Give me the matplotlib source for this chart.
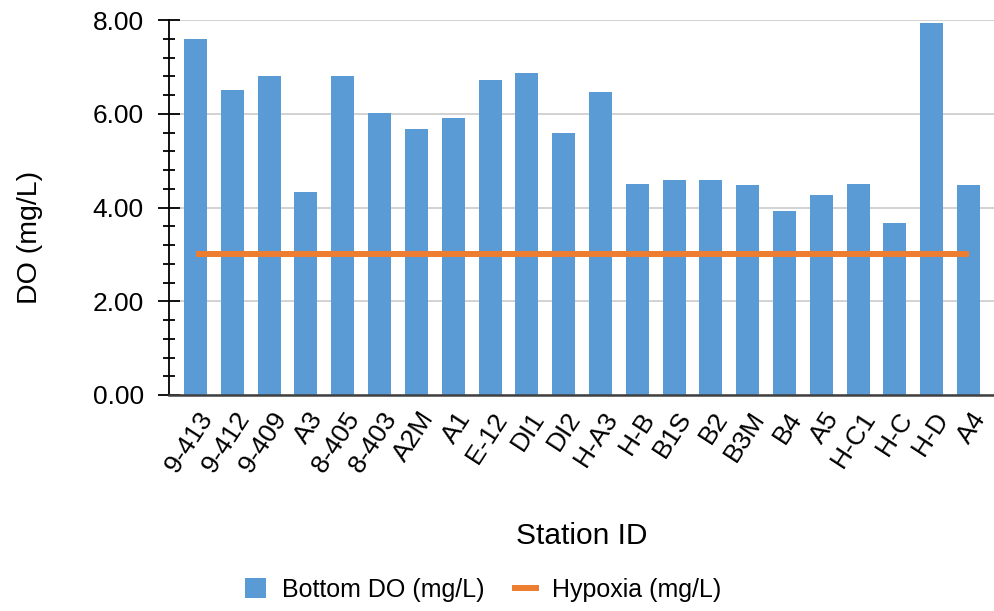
import matplotlib
matplotlib.use("Agg")
import matplotlib.pyplot as plt
from matplotlib.patches import Patch
from matplotlib.lines import Line2D
from matplotlib.ticker import MultipleLocator, FormatStrFormatter
from matplotlib.transforms import ScaledTranslation

plt.rcParams['font.family'] = ['Liberation Sans', 'DejaVu Sans']

stations = ["9-413", "9-412", "9-409", "A3", "8-405", "8-403", "A2M", "A1", "E-12",
            "DI1", "DI2", "H-A3", "H-B", "B1S", "B2", "B3M", "B4", "A5", "H-C1",
            "H-C", "H-D", "A4"]
bottom_do = [7.59, 6.51, 6.80, 4.34, 6.80, 6.01, 5.68, 5.92, 6.72,
             6.88, 5.59, 6.47, 4.51, 4.59, 4.59, 4.47, 3.92, 4.26, 4.51,
             3.67, 7.93, 4.47]
hypoxia = [3.0] * len(stations)

blue = "#5B9BD5"
orange = "#ED7D31"

W, H = 994, 611
fig = plt.figure(figsize=(W / 100, H / 100), dpi=100)
ax = fig.add_axes([169 / W, 1 - 395 / H, (994 - 169) / W, (395 - 20) / H])

x = list(range(len(stations)))
ax.bar(x, bottom_do, width=0.625, color=blue, zorder=2)
ax.plot(x, hypoxia, color=orange, linewidth=4.3, solid_capstyle='butt', zorder=3)

ax.set_xlim(-0.72, len(stations) - 1 + 0.69)
ax.set_ylim(0, 8)
ax.yaxis.set_major_locator(MultipleLocator(2))
ax.yaxis.set_minor_locator(MultipleLocator(0.4))
ax.yaxis.set_major_formatter(FormatStrFormatter('%.2f'))
ax.grid(axis='y', which='major', color='#CFCFCF', linewidth=1.3, zorder=0)
ax.set_axisbelow(True)

for s in ('top', 'right'):
    ax.spines[s].set_visible(False)
ax.spines['left'].set_color('black')
ax.spines['left'].set_linewidth(1.3)
ax.spines['bottom'].set_color('#404040')
ax.spines['bottom'].set_linewidth(1.8)

ax.tick_params(axis='y', which='major', direction='inout', length=16.5, width=1.3,
               labelsize=19, pad=10)
ax.tick_params(axis='y', which='minor', direction='inout', length=8.5, width=1.3)
ax.set_xticks(x)
ax.set_xticklabels(stations, rotation=57, ha='right', va='top',
                   rotation_mode='anchor', fontsize=19)
ax.tick_params(axis='x', length=0, pad=9)
shift = ScaledTranslation(2 / 100, 0, fig.dpi_scale_trans)
for lab in ax.get_xticklabels():
    lab.set_transform(lab.get_transform() + shift)

ax.set_ylabel("DO (mg/L)", fontsize=20.5, va='center')
ax.yaxis.set_label_coords((30 - 169) / (994 - 169), (395 - 237) / (395 - 20))
ax.set_xlabel("Station ID", fontsize=21.5, va='center')
ax.xaxis.set_label_coords(0.5, (395 - 536) / (395 - 20))

handles = [Patch(facecolor=blue, edgecolor='none'),
           Line2D([0], [0], color=orange, linewidth=4.3)]
fig.legend(handles, ["Bottom DO (mg/L)", "Hypoxia (mg/L)"], loc='center',
           bbox_to_anchor=(483 / W, 1 - 590 / H), ncol=2, frameon=False, fontsize=18,
           handlelength=0.85, handleheight=0.85, columnspacing=1.2, handletextpad=0.65,
           borderpad=0, borderaxespad=0)

fig.savefig("out.png", dpi=100)
